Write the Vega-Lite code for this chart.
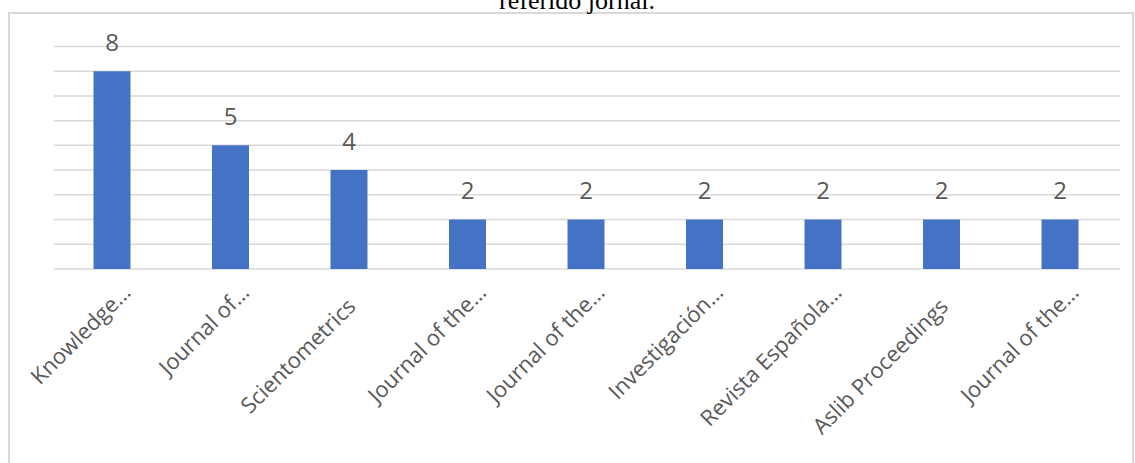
{
  "$schema": "https://vega.github.io/schema/vega-lite/v6.json",
  "width": 1124,
  "height": 466,
  "autosize": {"type": "none"},
  "padding": {"left": 9, "top": 13, "right": 2, "bottom": 0},
  "background": "white",
  "config": {"view": {"stroke": "#d9d9d9", "strokeWidth": 2}},
  "title": {"text": "referido jornal.", "font": "Liberation Serif", "fontSize": 26, "fontWeight": "normal", "color": "black", "anchor": "middle", "baseline": "alphabetic", "offset": -22, "dx": 6},
  "datasets": {
    "journals": [
      {"id": "j1", "label": "Knowledge…", "n": 8},
      {"id": "j2", "label": "Journal of…", "n": 5},
      {"id": "j3", "label": "Scientometrics", "n": 4},
      {"id": "j4", "label": "Journal of the…", "n": 2},
      {"id": "j5", "label": "Journal of the…", "n": 2},
      {"id": "j6", "label": "Investigación…", "n": 2},
      {"id": "j7", "label": "Revista Española…", "n": 2},
      {"id": "j8", "label": "Aslib Proceedings", "n": 2},
      {"id": "j9", "label": "Journal of the…", "n": 2}
    ],
    "grid": [{"v": 0}, {"v": 1}, {"v": 2}, {"v": 3}, {"v": 4}, {"v": 5}, {"v": 6}, {"v": 7}, {"v": 8}, {"v": 9}]
  },
  "layer": [
    {
      "data": {"name": "grid"},
      "mark": {"type": "rule", "color": "#d9d9d9", "strokeWidth": 1.5},
      "encoding": {
        "y": {"field": "v", "type": "quantitative", "scale": {"domain": [-8.5, 10.355], "nice": false, "zero": false}, "axis": null},
        "x": {"datum": 0, "type": "quantitative", "scale": {"domain": [-0.38, 9.11], "nice": false, "zero": false}, "axis": null},
        "x2": {"datum": 9}
      }
    },
    {
      "data": {"name": "journals"},
      "layer": [
        {
          "mark": {"type": "bar", "color": "#4472C4"},
          "encoding": {
            "y": {"field": "n", "type": "quantitative", "scale": {"domain": [-8.5, 10.355], "nice": false, "zero": false}, "axis": null},
            "y2": {"datum": 0}
          }
        },
        {
          "mark": {"type": "text", "font": "Open Sans", "fontSize": 24, "color": "#595959", "baseline": "alphabetic", "dy": -20},
          "encoding": {
            "y": {"field": "n", "type": "quantitative"},
            "text": {"field": "n", "type": "quantitative"}
          }
        },
        {
          "transform": [{"filter": "indexof(datum.label, '…') >= 0"}],
          "mark": {"type": "text", "font": "Open Sans", "fontSize": 22, "color": "#595959", "align": "right", "baseline": "alphabetic", "angle": 315, "xOffset": 20, "yOffset": 25},
          "encoding": {
            "y": {"datum": 0, "type": "quantitative"},
            "text": {"field": "label", "type": "nominal"}
          }
        },
        {
          "transform": [{"filter": "indexof(datum.label, '…') < 0"}],
          "mark": {"type": "text", "font": "Open Sans", "fontSize": 22, "color": "#595959", "align": "right", "baseline": "alphabetic", "angle": 315, "xOffset": 8, "yOffset": 39},
          "encoding": {
            "y": {"datum": 0, "type": "quantitative"},
            "text": {"field": "label", "type": "nominal"}
          }
        }
      ],
      "encoding": {
        "x": {"field": "id", "type": "nominal", "sort": null, "scale": {"paddingInner": 0.688, "paddingOuter": 0.5865, "align": 0.608}, "axis": null}
      }
    }
  ],
  "resolve": {"scale": {"x": "independent"}}
}
